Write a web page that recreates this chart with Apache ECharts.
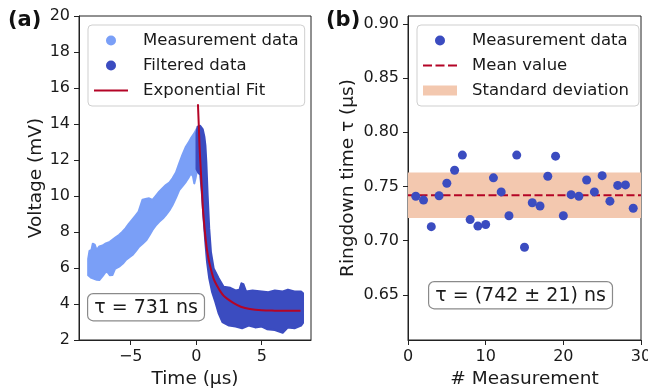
<!DOCTYPE html>
<html><head><meta charset="utf-8">
<script src="https://cdn.jsdelivr.net/npm/echarts@6/dist/echarts.min.js"></script>
<style>html,body{margin:0;padding:0;background:#fff}#c{width:648px;height:390px}</style>
</head><body><div id="c"></div>
<script>
// ---------- Panel (a) data (time in µs, voltage in mV), envelopes ----------
const measUpper = [[-8.25,6.5],[-8.15,6.95],[-8.0,7.0],[-7.9,7.35],[-7.75,7.3],[-7.6,7.0],[-7.4,7.2],[-7.15,7.25],[-6.9,7.37],[-6.6,7.45],[-6.4,7.56],[-6.15,7.7],[-5.9,7.83],[-5.65,8.0],[-5.4,8.2],[-5.15,8.45],[-4.9,8.67],[-4.65,8.9],[-4.4,9.13],[-4.1,9.8],[-3.8,9.85],[-3.6,9.87],[-3.34,9.78],[-3.1,10.0],[-2.83,10.24],[-2.55,10.45],[-2.32,10.61],[-2.05,10.75],[-1.81,10.98],[-1.55,11.3],[-1.3,11.81],[-1.05,12.3],[-0.79,12.74],[-0.6,12.95],[-0.41,13.2],[-0.15,13.48],[0.05,13.75],[0.3,13.6]];
const measLower = [[-8.25,5.6],[-8.0,5.45],[-7.6,5.35],[-7.4,5.33],[-7.15,5.55],[-6.9,5.8],[-6.75,5.75],[-6.6,5.6],[-6.4,5.61],[-6.2,5.95],[-5.89,6.07],[-5.6,6.25],[-5.38,6.44],[-5.1,6.6],[-4.87,6.72],[-4.6,6.95],[-4.36,7.18],[-4.1,7.35],[-3.8,7.56],[-3.55,7.85],[-3.34,8.11],[-3.1,8.35],[-2.83,8.57],[-2.55,8.75],[-2.32,8.94],[-2.05,9.2],[-1.81,9.5],[-1.55,9.9],[-1.3,10.33],[-1.05,10.55],[-0.79,10.79],[-0.6,11.0],[-0.41,11.26],[-0.25,11.1],[-0.15,10.7],[-0.05,11.0],[0.1,11.6],[0.3,11.8]];
const filtUpper = [[0.02,13.5],[0.1,13.85],[0.3,13.9],[0.5,13.7],[0.62,13.3],[0.7,12.8],[0.77,11.9],[0.87,10.06],[0.99,8.2],[1.12,6.9],[1.33,5.98],[1.71,5.43],[2.09,4.96],[2.6,4.9],[3.0,4.75],[3.3,4.8],[3.45,5.15],[3.6,5.1],[3.8,4.7],[4.3,4.75],[5.0,4.7],[5.5,4.65],[6.0,4.75],[6.6,4.7],[7.0,4.8],[7.5,4.7],[8.0,4.7],[8.15,4.6]];
const filtLower = [[0.02,11.5],[0.15,11.3],[0.31,11.17],[0.44,10.06],[0.56,8.76],[0.69,7.46],[0.82,6.35],[0.99,5.43],[1.2,4.69],[1.45,4.13],[1.7,3.5],[2.0,3.0],[2.5,2.8],[3.0,2.75],[3.5,2.65],[4.0,2.8],[4.5,2.7],[5.0,2.75],[5.4,2.6],[6.0,2.55],[6.6,2.4],[7.0,2.7],[7.5,2.65],[8.0,2.8],[8.15,2.95]];
const fitCurve = [[0.13,15.1],[0.19,14.0],[0.25,12.8],[0.32,11.8],[0.38,11.0],[0.45,10.1],[0.51,9.3],[0.6,8.5],[0.69,7.8],[0.8,7.1],[0.94,6.5],[1.1,6.0],[1.33,5.4],[1.6,5.0],[1.84,4.7],[2.1,4.45],[2.35,4.3],[2.86,4.05],[3.4,3.85],[4.1,3.72],[5.0,3.65],[6.0,3.63],[7.0,3.62],[7.96,3.62]];
const aXTicks = [-5, 0, 5];
const aYTicks = [2, 4, 6, 8, 10, 12, 14, 16, 18, 20];

// ---------- Panel (b) data ----------
const measIndex = [1,2,3,4,5,6,7,8,9,10,11,12,13,14,15,16,17,18,19,20,21,22,23,24,25,26,27,28,29];
const ringdown = [0.741,0.7375,0.713,0.7415,0.753,0.765,0.779,0.7195,0.7135,0.715,0.758,0.745,0.723,0.779,0.694,0.735,0.732,0.7595,0.778,0.723,0.7425,0.741,0.756,0.745,0.760,0.7365,0.751,0.7515,0.730];
const meanValue = 0.742;
const stdValue = 0.021;
const bXTicks = [0, 10, 20, 30];
const bYTicks = [0.65, 0.70, 0.75, 0.80, 0.85, 0.90];

const LIGHT = '#7a9ff7', DARK = '#3b4cc0', RED = '#b40426', BAND = '#f3c8af';
const FONT = '"DejaVu Sans", sans-serif';
const TXT = '#1a1a1a';
const LINE_ICON = 'path://M0,0H34V2H0Z';
const DASH_ICON = 'path://M0,0H9V2H0Z M12.5,0H21.5V2H12.5Z M25,0H34V2H25Z';

function envSeries(name, upper, lower, color, z) {
  return {
    type: 'custom', name, xAxisIndex: 0, yAxisIndex: 0, z, silent: true, clip: true,
    itemStyle: { color },
    data: [upper[0]],
    renderItem: (params, api) => {
      const pts = upper.concat(lower.slice().reverse()).map(p => api.coord(p));
      return { type: 'polygon', shape: { points: pts },
        style: { fill: color, stroke: color, lineWidth: 2, lineJoin: 'round' } };
    }
  };
}

const axisCommon = {
  axisLine: { show: true, onZero: false, lineStyle: { color: '#222', width: 1 } },
  axisTick: { show: true, inside: false, length: 5, lineStyle: { color: '#222', width: 1 } },
  splitLine: { show: false },
  nameTextStyle: { fontFamily: FONT, fontSize: 18.5, color: TXT },
};
const labelStyle = { fontFamily: FONT, fontSize: 16, color: TXT, margin: 9 };
const minus = v => (v < 0 ? '\u2212' + Math.abs(v) : String(v));
const legendCommon = {
  orient: 'vertical', selectedMode: false,
  padding: [7, 6, 7, 6], itemGap: 8, itemWidth: 34, itemHeight: 10,
  backgroundColor: 'rgba(255,255,255,0.85)', borderColor: '#cfcfcf', borderWidth: 1, borderRadius: 4,
  itemStyle: { borderWidth: 0 },
  textStyle: { fontFamily: FONT, fontSize: 16.5, color: TXT, lineHeight: 16, padding: [0, 0, 0, 10] }
};
const gridCommon = { show: true, borderColor: '#222', borderWidth: 1, containLabel: false, outerBoundsMode: 'none' };

const option = {
  animation: false,
  backgroundColor: '#fff',
  grid: [
    Object.assign({ left: 79, top: 16, width: 232, height: 324 }, gridCommon),
    Object.assign({ left: 408, top: 16, width: 233, height: 324 }, gridCommon)
  ],
  xAxis: [
    Object.assign({}, axisCommon, { type: 'value', gridIndex: 0, min: -8.95, max: 8.76,
      name: 'Time (µs)', nameLocation: 'middle', nameGap: 30,
      axisTick: Object.assign({}, axisCommon.axisTick, { customValues: aXTicks }),
      axisLabel: Object.assign({}, labelStyle, { customValues: aXTicks, formatter: minus }) }),
    Object.assign({}, axisCommon, { type: 'value', gridIndex: 1, min: 0, max: 30,
      name: '# Measurement', nameLocation: 'middle', nameGap: 30,
      axisTick: Object.assign({}, axisCommon.axisTick, { customValues: bXTicks }),
      axisLabel: Object.assign({}, labelStyle, { customValues: bXTicks }) })
  ],
  yAxis: [
    Object.assign({}, axisCommon, { type: 'value', gridIndex: 0, min: 2, max: 20,
      name: 'Voltage (mV)', nameLocation: 'middle', nameGap: 32,
      axisTick: Object.assign({}, axisCommon.axisTick, { customValues: aYTicks }),
      axisLabel: Object.assign({}, labelStyle, { customValues: aYTicks }) }),
    Object.assign({}, axisCommon, { type: 'value', gridIndex: 1, min: 0.6085, max: 0.9072,
      name: 'Ringdown time τ (µs)', nameLocation: 'middle', nameGap: 50,
      axisTick: Object.assign({}, axisCommon.axisTick, { customValues: bYTicks }),
      axisLabel: Object.assign({}, labelStyle, { customValues: bYTicks, formatter: v => v.toFixed(2) }) })
  ],
  legend: [
    Object.assign({}, legendCommon, { left: 88, top: 25,
      data: [
        { name: 'Measurement data', icon: 'circle', itemStyle: { color: LIGHT } },
        { name: 'Filtered data', icon: 'circle', itemStyle: { color: DARK } },
        { name: 'Exponential Fit', icon: LINE_ICON, itemStyle: { color: RED } }
      ] }),
    Object.assign({}, legendCommon, { left: 417, top: 25,
      data: [
        { name: 'Measurement data ', icon: 'circle', itemStyle: { color: DARK } },
        { name: 'Mean value', icon: DASH_ICON, itemStyle: { color: RED } },
        { name: 'Standard deviation', icon: 'rect', itemStyle: { color: BAND } }
      ] })
  ],
  graphic: [
    { type: 'text', left: 8, top: 10, style: { text: '(a)', font: 'bold 21px ' + FONT, fill: '#111' } },
    { type: 'text', left: 326, top: 10, style: { text: '(b)', font: 'bold 21px ' + FONT, fill: '#111' } },
    { type: 'text', left: 87, top: 293, z: 100, style: { text: 'τ = 731 ns', font: '19px ' + FONT, fill: TXT,
        backgroundColor: '#fff', borderColor: '#8a8a8a', borderWidth: 1.2, borderRadius: 5, padding: [4, 6, 3, 6] } },
    { type: 'text', left: 428, top: 281, z: 100, style: { text: 'τ = (742 ± 21) ns', font: '19px ' + FONT, fill: TXT,
        backgroundColor: '#fff', borderColor: '#8a8a8a', borderWidth: 1.2, borderRadius: 5, padding: [4, 6, 3, 6] } }
  ],
  series: [
    envSeries('Measurement data', measUpper, measLower, LIGHT, 2),
    envSeries('Filtered data', filtUpper, filtLower, DARK, 3),
    { type: 'line', name: 'Exponential Fit', xAxisIndex: 0, yAxisIndex: 0, z: 4, data: fitCurve,
      symbol: 'none', smooth: 0.3, lineStyle: { color: RED, width: 2 }, itemStyle: { color: RED }, silent: true },
    { type: 'custom', name: 'Standard deviation', xAxisIndex: 1, yAxisIndex: 1, z: 1, silent: true,
      itemStyle: { color: BAND },
      data: [[0, meanValue - stdValue, 30, meanValue + stdValue]],
      renderItem: (params, api) => {
        const p0 = api.coord([api.value(0), api.value(1)]);
        const p1 = api.coord([api.value(2), api.value(3)]);
        return { type: 'rect', shape: { x: p0[0], y: p1[1], width: p1[0] - p0[0], height: p0[1] - p1[1] },
          style: { fill: BAND } };
      } },
    { type: 'line', name: 'Mean value', xAxisIndex: 1, yAxisIndex: 1, z: 2, silent: true,
      data: [[0, meanValue], [30, meanValue]], symbol: 'none',
      lineStyle: { color: RED, width: 2, type: [8, 3.5] }, itemStyle: { color: RED } },
    { type: 'scatter', name: 'Measurement data ', xAxisIndex: 1, yAxisIndex: 1, z: 3,
      data: measIndex.map((x, i) => [x, ringdown[i]]), symbol: 'circle', symbolSize: 9,
      itemStyle: { color: DARK, opacity: 1 } }
  ]
};
echarts.init(document.getElementById('c'), null, { renderer: 'canvas' }).setOption(option);
</script></body></html>
